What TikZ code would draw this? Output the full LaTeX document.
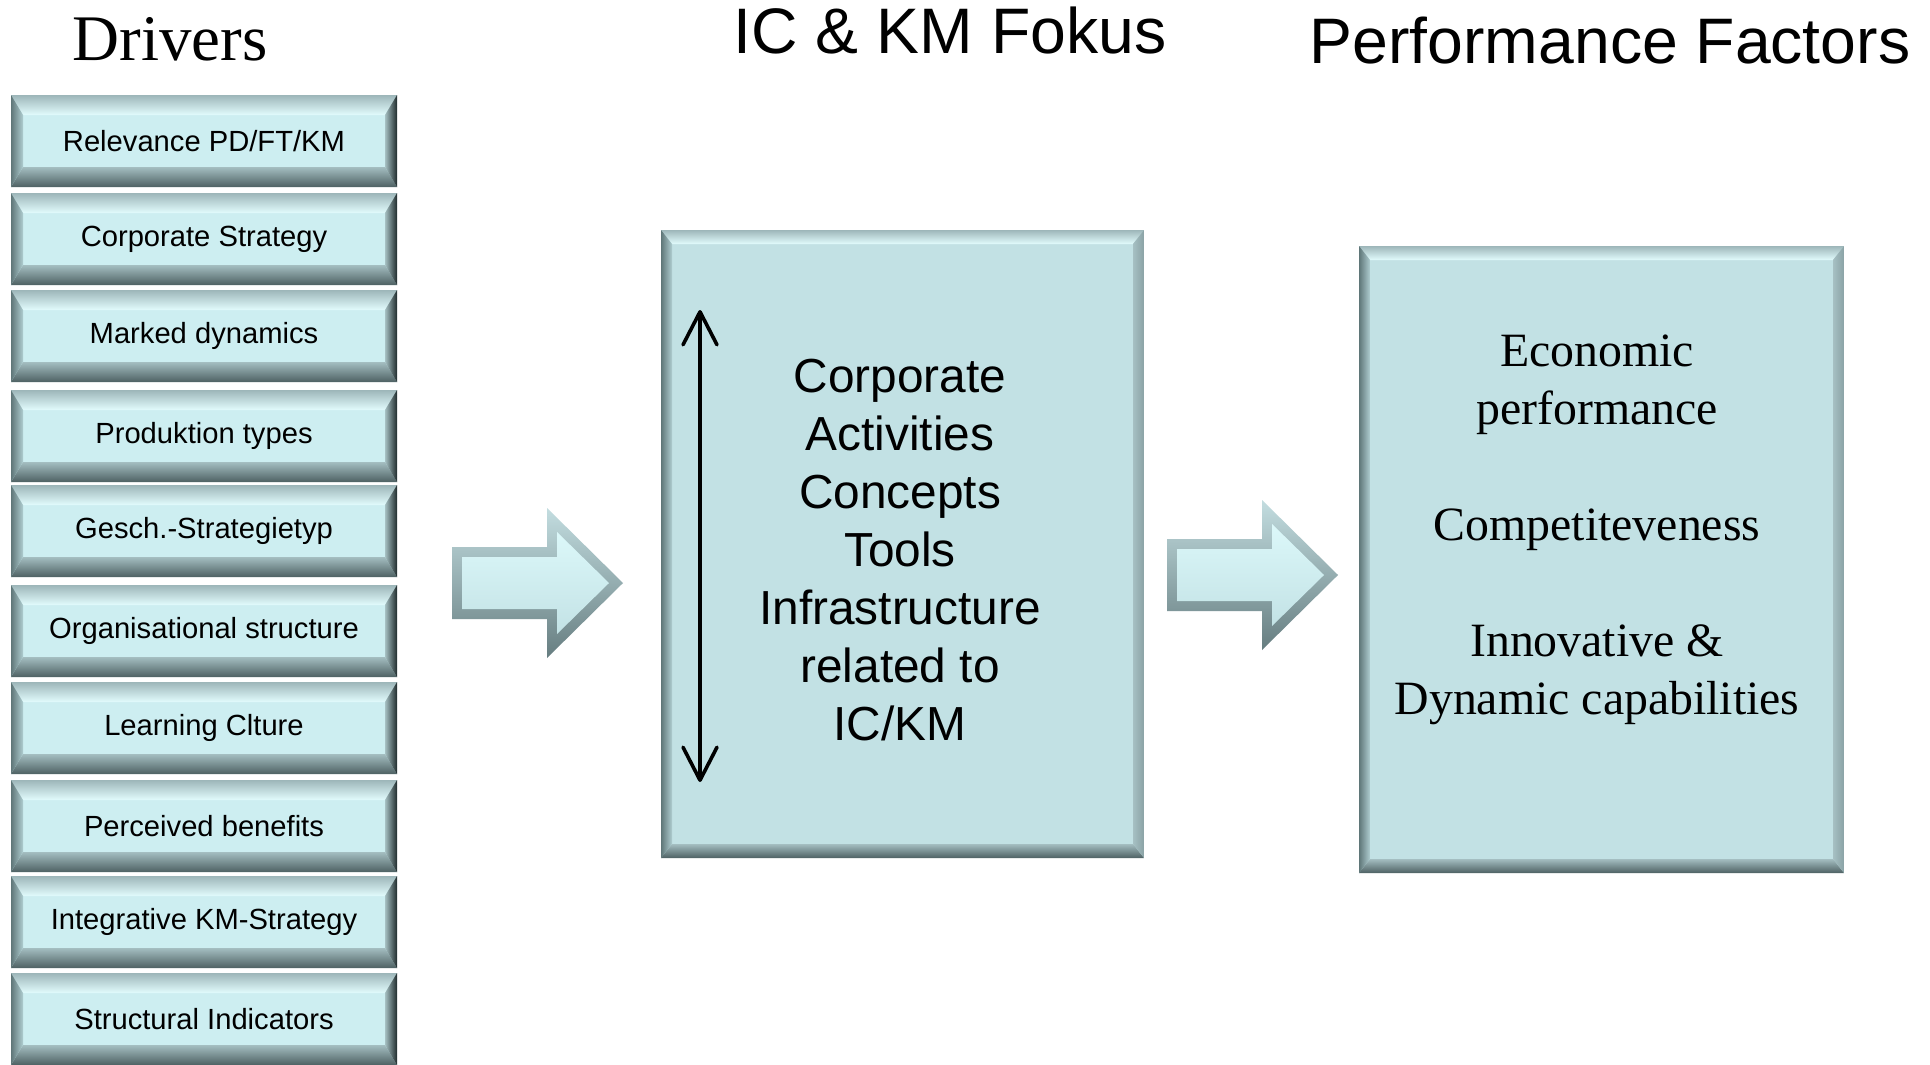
\documentclass[tikz,border=0pt]{standalone}
\usepackage{fontspec}
\setmainfont{Liberation Serif}
\setsansfont{Liberation Sans}
\usetikzlibrary{positioning, arrows.meta, calc}
\definecolor{face}{HTML}{CDEEF1}
\definecolor{bigface}{HTML}{C2E1E4}
\definecolor{topout}{HTML}{9DB6B9}
\definecolor{topin}{HTML}{E2FCFD}
\definecolor{leftout}{HTML}{5F7678}
\definecolor{leftin}{HTML}{AFCDD0}
\definecolor{botout}{HTML}{4E6163}
\definecolor{botin}{HTML}{A4BEC1}
\definecolor{rightout}{HTML}{1F2B2C}
\definecolor{bigright}{HTML}{8AA2A5}
\definecolor{rightin}{HTML}{A6C0C3}
\definecolor{arrowtop}{HTML}{C3DDE0}
\definecolor{arrowbot}{HTML}{667D80}

\tikzset{
  rightedge/.store in=\rightcol, rightedge=rightout,
  bevel/.style 2 args={path picture={
    \path (path picture bounding box.north west) coordinate (o1)
          (path picture bounding box.north east) coordinate (o2)
          (path picture bounding box.south east) coordinate (o3)
          (path picture bounding box.south west) coordinate (o4);
    \path ($(o1)+(#1,-#2)$) coordinate (i1) ($(o2)+(-#1,-#2)$) coordinate (i2)
          ($(o3)+(-#1,#2)$) coordinate (i3) ($(o4)+(#1,#2)$) coordinate (i4);
    \shade[top color=topout, bottom color=topin] (o1) -- (o2) -- (i2) -- (i1) -- cycle;
    \shade[top color=botin, bottom color=botout] (o4) -- (o3) -- (i3) -- (i4) -- cycle;
    \shade[left color=leftout, right color=leftin] (o1) -- (i1) -- (i4) -- (o4) -- cycle;
    \shade[left color=rightin, right color=\rightcol] (o2) -- (i2) -- (i3) -- (o3) -- cycle;
  }},
  driver/.style={rectangle, fill=face, inner sep=0pt, minimum width=38.6mm,
    minimum height=9.2mm, font=\sffamily\fontsize{8.3}{10}\selectfont, bevel={1.2mm}{2mm}},
  bigbox/.style={rectangle, fill=bigface, inner sep=0pt, rightedge=bigright,
    bevel={1.1mm}{1.4mm}},
  heading/.style={anchor=base}
}

\begin{document}
\begin{tikzpicture}[x=0.1mm, y=0.1mm]
  \fill[white] (0,0) rectangle (1930,-1064);
  \useasboundingbox (0,0) rectangle (1930,-1064);
  % column headings
  \node[heading, font=\rmfamily\fontsize{18.5}{22}\selectfont] (drivers) at (170,-60) {Drivers};
  \node[heading, font=\sffamily\fontsize{18.3}{22}\selectfont] (fokus) at (950,-53) {IC \& KM Fokus};
  \node[heading, font=\sffamily\fontsize{18.3}{22}\selectfont] (factors) at (1610,-63) {Performance Factors};
  % drivers column
  \foreach \top/\txt [count=\i] in {95/{Relevance PD/FT/KM}, 193/{Corporate Strategy},
      290/{Marked dynamics}, 390/{Produktion types}, 485/{Gesch.-Strategietyp},
      585/{Organisational structure}, 682/{Learning Clture}, 780/{Perceived benefits},
      876/{Integrative KM-Strategy}, 973/{Structural Indicators}}
    \node[driver] (drv\i) at (204,-\top-46) {\txt};
  % block arrows
  \foreach \xx/\yy in {452/583, 1167/575} {
    \begin{scope}[shift={(\xx,-\yy)}]
      \shade[top color=arrowtop, bottom color=arrowbot]
        (0,36) -- (95,36) -- (95,75) -- (171,0) -- (95,-75) -- (95,-36) -- (0,-36) -- cycle;
      \shade[top color=topin!70!face, middle color=topin, bottom color=face!75!botin]
        (10,26) -- (105,26) -- (105,51) -- (157,0) -- (105,-51) -- (105,-26) -- (10,-26) -- cycle;
    \end{scope}
  }
  % IC & KM box
  \node[bigbox, minimum width=48.3mm, minimum height=62.8mm] (focus) at (902.5,-544) {};
  \node[font=\sffamily\fontsize{13.6}{16.5}\selectfont, align=center] (focustxt) at (900,-550)
    {Corporate\\Activities\\Concepts\\Tools\\Infrastructure\\related to\\IC/KM};
  \coordinate (uptip) at (700,-310);
  \coordinate (downtip) at (700,-782);
  \draw[line width=0.36mm, >={Straight Barb[length=3.3mm, width=3.4mm, round]}, <->]
    (uptip) -- (downtip);
  % performance box
  \node[bigbox, minimum width=48.5mm, minimum height=62.7mm] (perf) at (1601.5,-559.5) {};
  \node[font=\rmfamily\fontsize{13.6}{16.5}\selectfont, align=center] (perftxt) at (1597,-530)
    {Economic\\performance\\[16.5pt]Competiteveness\\[16.5pt]Innovative \&\\Dynamic capabilities};
\end{tikzpicture}
\end{document}
